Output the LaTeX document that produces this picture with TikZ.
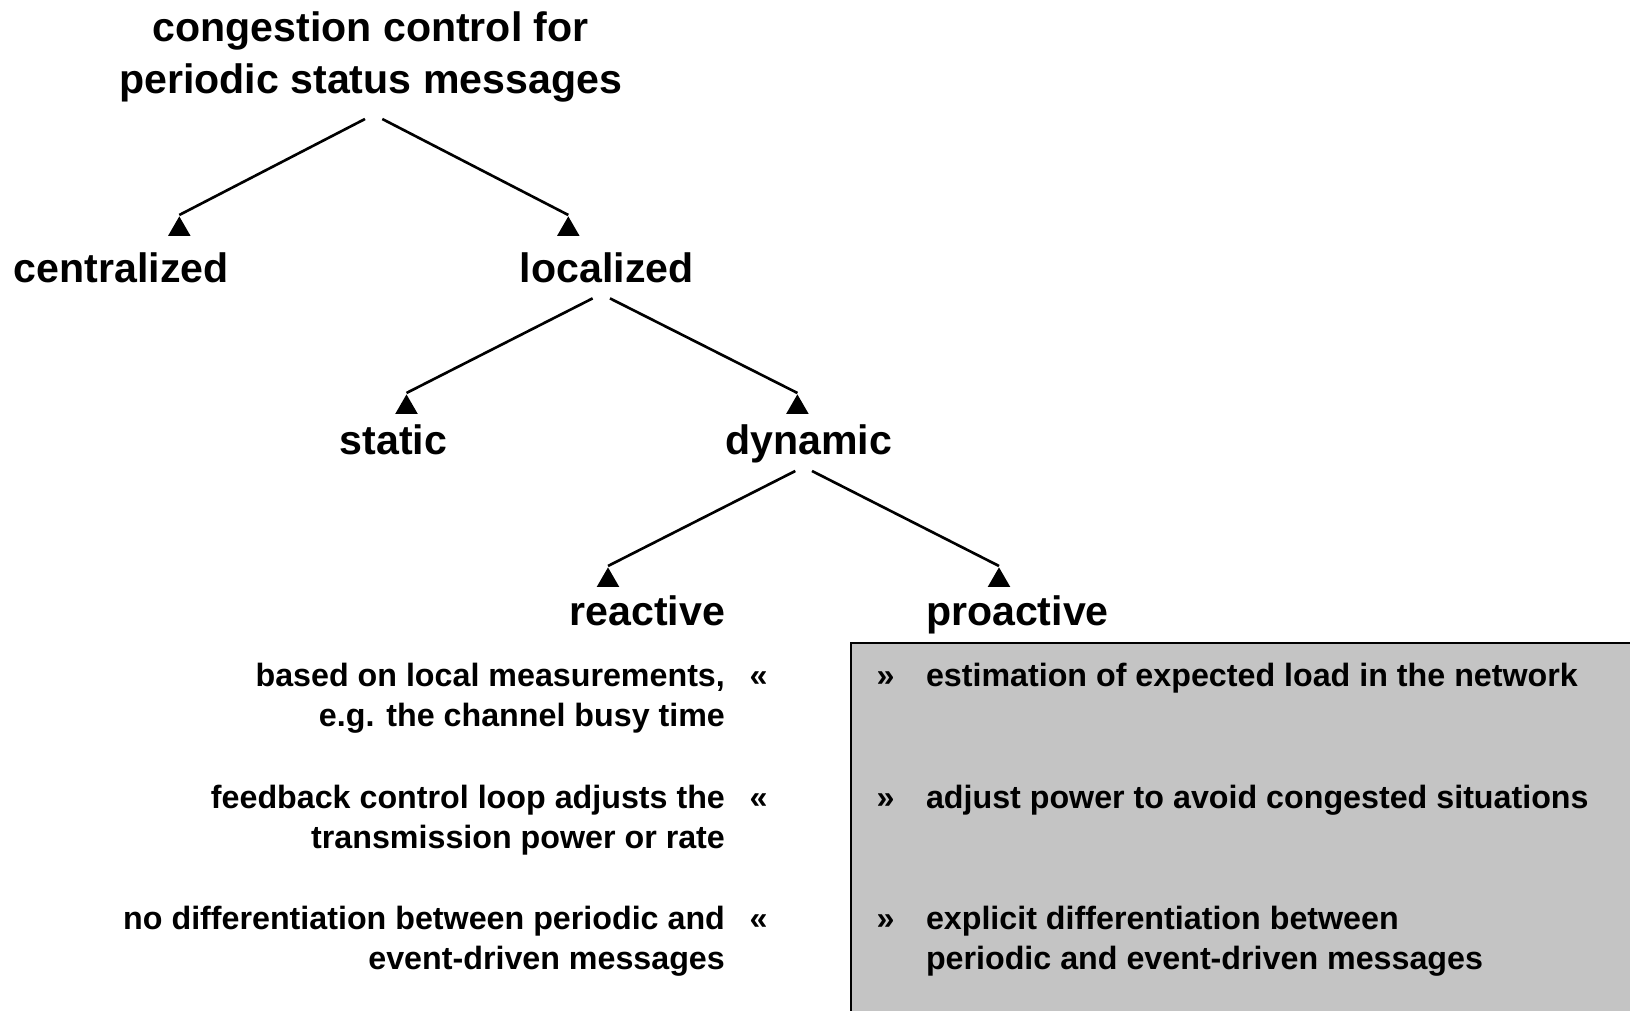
\documentclass[tikz,border=0pt]{standalone}
\usepackage{fontspec}
\setmainfont{Liberation Sans}
\usepackage{xcolor}
\usetikzlibrary{positioning,shapes.geometric}

\definecolor{boxgray}{RGB}{196,196,196}

\tikzset{
	head/.style={font=\fontsize{11.7}{14.9}\selectfont\bfseries,inner sep=0pt},
	item/.style={font=\fontsize{9.17}{11.3}\selectfont\bfseries,inner sep=0pt},
	branch/.style={line width=0.75pt},
	tri/.style={regular polygon,regular polygon sides=3,fill=black,inner sep=0pt,minimum size=0.26cm,anchor=corner 1},
}

\begin{document}
\begin{tikzpicture}
		\clip (0,0) rectangle (16.3,-10.11);
		% grey panel on the right
		\draw[fill=boxgray,line width=0.75pt] (8.51,-10.4) rectangle (16.6,-6.43);
		% tree
		\node[head,align=center,anchor=base] (root) at (3.706,-0.94) {congestion control for\\periodic status messages};
		\node[head,anchor=base] (central) at (1.213,-2.825) {centralized};
		\node[head,anchor=base] (local) at (6.067,-2.825) {localized};
		\node[head,anchor=base] (static) at (3.935,-4.55) {static};
		\node[head,anchor=base] (dynamic) at (8.088,-4.55) {dynamic};
		\node[head,anchor=base east] (reactive) at (7.256,-6.26) {reactive};
		\node[head,anchor=base west] (proactive) at (9.253,-6.26) {proactive};
		\coordinate (root-l) at (3.65,-1.19);
		\coordinate (root-r) at (3.823,-1.19);
		\coordinate (local-l) at (5.926,-2.984);
		\coordinate (local-r) at (6.10,-2.984);
		\coordinate (dyn-l) at (7.953,-4.71);
		\coordinate (dyn-r) at (8.12,-4.71);
		\node[tri] (t-central) at (1.793,-2.15) {};
		\node[tri] (t-local) at (5.683,-2.15) {};
		\node[tri] (t-static) at (4.065,-3.93) {};
		\node[tri] (t-dynamic) at (7.974,-3.93) {};
		\node[tri] (t-reactive) at (6.08,-5.66) {};
		\node[tri] (t-proactive) at (9.99,-5.66) {};
		\draw[branch] (root-l) -- (t-central.corner 1);
		\draw[branch] (root-r) -- (t-local.corner 1);
		\draw[branch] (local-l) -- (t-static.corner 1);
		\draw[branch] (local-r) -- (t-dynamic.corner 1);
		\draw[branch] (dyn-l) -- (t-reactive.corner 1);
		\draw[branch] (dyn-r) -- (t-proactive.corner 1);
		% reactive properties
		\node[item,align=right,anchor=base east] (re1) at (7.256,-7.267) {based on local measurements,\\e.g. the channel busy time};
		\node[item,align=right,anchor=base east] (re2) at (7.256,-8.487) {feedback control loop adjusts the\\transmission power or rate};
		\node[item,align=right,anchor=base east] (re3) at (7.256,-9.697) {no differentiation between periodic and\\event-driven messages};
		\node[item,anchor=base west] (lq1) at (7.49,-6.87) {«};
		\node[item,anchor=base west] (lq2) at (7.49,-8.09) {«};
		\node[item,anchor=base west] (lq3) at (7.49,-9.30) {«};
		% proactive properties
		\node[item,anchor=base west] (rq1) at (8.76,-6.87) {»};
		\node[item,anchor=base west] (rq2) at (8.76,-8.09) {»};
		\node[item,anchor=base west] (rq3) at (8.76,-9.30) {»};
		\node[item,align=left,anchor=base west] (pro1) at (9.253,-6.87) {estimation of expected load in the network};
		\node[item,align=left,anchor=base west] (pro2) at (9.253,-8.09) {adjust power to avoid congested situations};
		\node[item,align=left,anchor=base west] (pro3) at (9.253,-9.697) {explicit differentiation between\\periodic and event-driven messages};
	\end{tikzpicture}
\end{document}
